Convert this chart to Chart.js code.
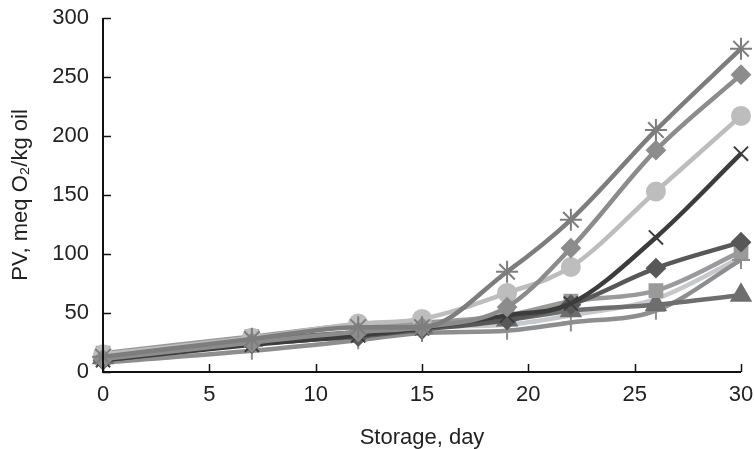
<!DOCTYPE html>
<html>
<head>
<meta charset="utf-8">
<script src="https://cdn.jsdelivr.net/npm/chart.js@4/dist/chart.umd.min.js"></script>
<style>
html,body{margin:0;padding:0;background:#fff;}
#wrap{width:754px;height:449px;position:relative;}
</style>
</head>
<body>
<div id="wrap"><canvas id="c" width="754" height="449"></canvas></div>
<script>
const days = [0, 7, 12, 15, 19, 22, 26, 30];
const xTicks = [0, 5, 10, 15, 20, 25, 30];
const yTicks = [0, 50, 100, 150, 200, 250, 300];

const starSeries = [13, 28, 38, 38, 85, 129, 205, 274];
const diamondSeries = [11, 25, 34, 38, 55, 105, 188, 252];
const circleSeries = [15, 29, 41, 45, 67, 89, 153, 217];
const xSeries = [10, 23, 31, 37, 48, 58, 114, 185];
const darkDiamondSeries = [10, 24, 30, 36, 44, 57, 88, 110];
const squareSeries = [16, 30, 40, 42, 48, 60, 69, 102];
const triangleSeries = [12, 27, 34, 38, 44, 52, 57, 65];
const plusSeries = [8, 18, 27, 33, 35, 42, 52, 95];
const lightSeries = [11, 24, 33, 38, 40, 48, 62, 97];

function mk(values, color, style, radius, lineW) {
  return {
    data: days.map((d, i) => ({x: d, y: values[i]})),
    borderColor: color,
    backgroundColor: color,
    pointStyle: style,
    pointRadius: radius,
    pointBorderWidth: 2,
    pointBorderColor: color,
    pointBackgroundColor: color,
    borderWidth: lineW || 4.5,
    tension: 0.4,
    cubicInterpolationMode: 'monotone',
    clip: false
  };
}

const datasets = [
  mk(starSeries, '#7d7d7d', 'star', 11),
  mk(diamondSeries, '#8c8c8c', 'rectRot', 9),
  mk(circleSeries, '#bdbdbd', 'circle', 9),
  mk(xSeries, '#3c3c3c', 'crossRot', 10),
  mk(darkDiamondSeries, '#585858', 'rectRot', 9),
  mk(squareSeries, '#9a9a9a', 'rect', 9),
  mk(triangleSeries, '#6e6e6e', 'triangle', 11),
  mk(plusSeries, '#8e8e8e', 'cross', 9),
  mk(lightSeries, '#c6c8cc', 'circle', 0)
];

const innerTicks = {
  id: 'innerTicks',
  afterDraw(chart) {
    const ctx = chart.ctx;
    const xs = chart.scales.x, ys = chart.scales.y;
    const a = chart.chartArea;
    ctx.save();
    ctx.strokeStyle = '#111';
    ctx.lineWidth = 2;
    ctx.beginPath();
    ctx.moveTo(a.left, a.top);
    ctx.lineTo(a.left, a.bottom);
    ctx.lineTo(a.right, a.bottom);
    ctx.stroke();
    ctx.lineWidth = 1.5;
    ctx.beginPath();
    xTicks.forEach(v => {
      const px = Math.round(xs.getPixelForValue(v)) + 0.5;
      ctx.moveTo(px, a.bottom);
      ctx.lineTo(px, a.bottom - 8);
    });
    yTicks.forEach(v => {
      const py = Math.round(ys.getPixelForValue(v)) + 0.5;
      ctx.moveTo(a.left, py);
      ctx.lineTo(a.left + 8, py);
    });
    ctx.stroke();
    ctx.restore();
  }
};

const FONT = {family: 'Liberation Sans, Arial', size: 22};

new Chart(document.getElementById('c'), {
  type: 'line',
  data: {datasets},
  options: {
    responsive: false,
    animation: false,
    layout: {padding: {top: 18, right: 13, left: 2, bottom: 0}},
    plugins: {legend: {display: false}, tooltip: {enabled: false}},
    scales: {
      x: {
        type: 'linear', min: 0, max: 30,
        afterBuildTicks: s => { s.ticks = xTicks.map(v => ({value: v})); },
        afterFit: s => { s.height = 449 - 372; s.paddingLeft = 0; s.paddingRight = 0; },
        grid: {display: false, drawTicks: false},
        border: {display: false},
        ticks: {color: '#222', font: FONT, padding: 10, maxRotation: 0},
        title: {display: true, text: 'Storage, day', color: '#222', font: FONT, padding: {top: 14, bottom: -2}}
      },
      y: {
        type: 'linear', min: 0, max: 300,
        afterBuildTicks: s => { s.ticks = yTicks.map(v => ({value: v})); },
        afterFit: s => { s.width = 103 - 2; s.paddingTop = 0; s.paddingBottom = 0; },
        grid: {display: false, drawTicks: false},
        border: {display: false},
        ticks: {color: '#222', font: FONT, padding: 14},
        title: {display: true, text: 'PV, meq O₂/kg oil', color: '#222', font: FONT, padding: {top: 6, bottom: 6}}
      }
    }
  },
  plugins: [innerTicks]
});
</script>
</body>
</html>
